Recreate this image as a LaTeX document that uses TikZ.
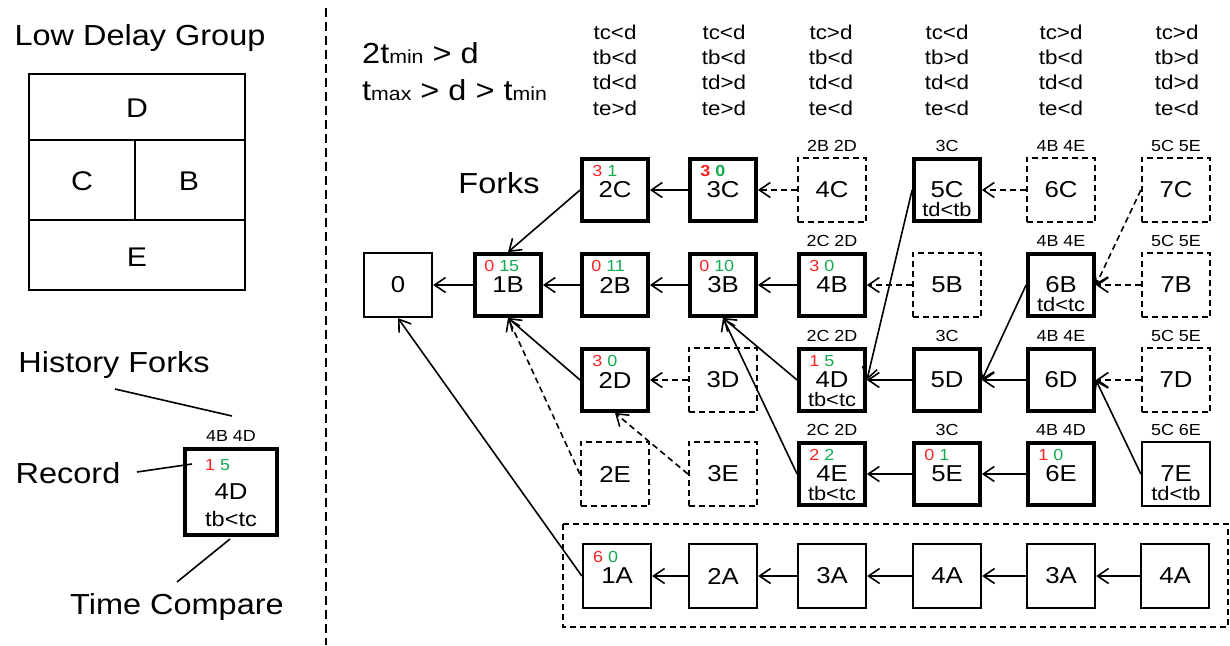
\documentclass[tikz,border=0pt]{standalone}
\usepackage{fontspec}
\setmainfont{Liberation Sans}[FakeStretch=1.12]
\usetikzlibrary{arrows.meta,calc}
\definecolor{recred}{RGB}{250,35,35}
\definecolor{recgreen}{RGB}{20,170,80}
\newcommand{\setfs}[1]{\fontsize{#1}{#1}\selectfont}
\newcommand{\recpair}[2]{{\color{recred}#1} {\color{recgreen}#2}}
\begin{document}
\begin{tikzpicture}[x=1pt,y=-1pt,
  big/.style={inner sep=0pt,font=\setfs{29}},
  cell/.style={inner sep=0pt,font=\setfs{27}},
  thickbox/.style={draw,line width=3.8pt,minimum width=66pt,minimum height=62pt,inner sep=0pt,font=\setfs{23}},
  thinbox/.style={draw,line width=1.8pt,minimum width=68.5pt,minimum height=64.5pt,inner sep=0pt,font=\setfs{23}},
  dashbox/.style={thinbox,dash pattern=on 6pt off 4pt},
  rec/.style={anchor=west,inner sep=0pt,font=\setfs{16}},
  cmp/.style={inner sep=0pt,font=\setfs{19.5}},
  hist/.style={inner sep=0pt,font=\setfs{16}},
  hdr/.style={inner sep=0pt,align=center,font=\fontsize{20}{25.3}\selectfont},
  arr/.style={line width=1.6pt,-{Straight Barb[length=11pt,width=15pt,line width=1.6pt]}},
  darr/.style={arr,dash pattern=on 6pt off 4pt},
  plain/.style={line width=1.6pt}]
\useasboundingbox (0,0) rectangle (1230,645);

% ---------- left panel: low delay group ----------
\node[big] (ldg) at (140,38) {Low Delay Group};
\draw[line width=1.9pt] (29,74) rectangle (245,290);
\draw[line width=1.9pt] (29,140) -- (245,140);
\draw[line width=1.9pt] (29,220) -- (245,220);
\draw[line width=1.9pt] (135,140) -- (135,220);
\node[cell] (gD) at (137,108) {D};
\node[cell] (gC) at (82,181) {C};
\node[cell] (gB) at (189,181) {B};
\node[cell] (gE) at (137,257) {E};

% ---------- left panel: legend ----------
\node[big] (lhist) at (114,365) {History Forks};
\node[big] (lrec) at (68,473) {Record};
\node[big] (ltime) at (177,607) {Time Compare};
\node[draw,line width=3.8pt,minimum width=92pt,minimum height=86pt,inner sep=0pt,font=\setfs{23}] (ex) at (231,492) {4D};
\node[hist] (exh) at (231,436) {4B 4D};
\node[rec] (exr) at (205,465) {\recpair{1}{5}};
\node[cmp,font=\setfs{21}] (exc) at (231,519) {tb<tc};
\coordinate (lh1) at (115,389);
\coordinate (lh2) at (232,416);
\coordinate (lr1) at (137,472);
\coordinate (lr2) at (192,464);
\coordinate (lt1) at (177,582);
\coordinate (lt2) at (230,539);
\draw[plain] (lh1) -- (lh2);
\draw[plain] (lr1) -- (lr2);
\draw[plain] (lt1) -- (lt2);

% separator
\coordinate (s1) at (326,8);
\coordinate (s2) at (326,645);
\draw[line width=1.4pt,dash pattern=on 9pt off 5pt] (s1) -- (s2);

% ---------- conditions ----------
\node[big,anchor=base west] (f1) at (362,63) {2t{\setfs{19}min} > d};
\node[big,anchor=base west] (f2) at (362,100) {t{\setfs{19}max} > d > t{\setfs{19}min}};
\node[hdr] (h1) at (615,70) {tc<d\\tb<d\\td<d\\te>d};
\node[hdr] (h2) at (724,70) {tc<d\\tb<d\\td>d\\te>d};
\node[hdr] (h3) at (831,70) {tc>d\\tb<d\\td<d\\te<d};
\node[hdr] (h4) at (947,70) {tc<d\\tb>d\\td<d\\te<d};
\node[hdr] (h5) at (1061,70) {tc>d\\tb<d\\td<d\\te<d};
\node[hdr] (h6) at (1177,70) {tc>d\\tb>d\\td>d\\te<d};
\node[big] (forks) at (499,183) {Forks};

% ---------- boxes ----------
\node[thinbox] (n0) at (398,285) {0};
\node[thickbox] (n1B) at (508,285) {1B};
% row C
\node[thickbox] (n2C) at (615,190) {2C};
\node[thickbox] (n3C) at (723,190) {3C};
\node[dashbox] (n4C) at (832,190) {4C};
\node[thickbox] (n5C) at (947,190) {5C};
\node[dashbox] (n6C) at (1061,190) {6C};
\node[dashbox] (n7C) at (1176,190) {7C};
% row B
\node[thickbox] (n2B) at (615,285) {2B};
\node[thickbox] (n3B) at (723,285) {3B};
\node[thickbox] (n4B) at (832,285) {4B};
\node[dashbox] (n5B) at (947,285) {5B};
\node[thickbox] (n6B) at (1061,285) {6B};
\node[dashbox] (n7B) at (1176,285) {7B};
% row D
\node[thickbox] (n2D) at (615,380) {2D};
\node[dashbox] (n3D) at (723,380) {3D};
\node[thickbox] (n4D) at (832,380) {4D};
\node[thickbox] (n5D) at (947,380) {5D};
\node[thickbox] (n6D) at (1061,380) {6D};
\node[dashbox] (n7D) at (1176,380) {7D};
% row E
\node[dashbox] (n2E) at (615,474) {2E};
\node[dashbox] (n3E) at (723,474) {3E};
\node[thickbox] (n4E) at (832,474) {4E};
\node[thickbox] (n5E) at (947,474) {5E};
\node[thickbox] (n6E) at (1061,474) {6E};
\node[thinbox] (n7E) at (1176,474) {7E};
% row A
\node[thinbox] (a1) at (617,576) {1A};
\node[thinbox] (a2) at (723,576) {2A};
\node[thinbox] (a3) at (832,576) {3A};
\node[thinbox] (a4) at (947,576) {4A};
\node[thinbox] (a5) at (1061,576) {3A};
\node[thinbox] (a6) at (1175,576) {4A};
\coordinate (dbA1) at (563,524);
\coordinate (dbA2) at (1228,627);
\draw[line width=1.6pt,dash pattern=on 6pt off 4pt] (dbA1) rectangle (dbA2);

% ---------- records ----------
\node[rec] (r1B) at ($(n1B.north west)+(11,14)$) {\recpair{0}{15}};
\node[rec] (r2C) at ($(n2C.north west)+(12,14)$) {\recpair{3}{1}};
\node[rec] (r3C) at ($(n3C.north west)+(12,14)$) {\bfseries\recpair{3}{0}};
\node[rec] (r2B) at ($(n2B.north west)+(11,14)$) {\recpair{0}{11}};
\node[rec] (r3B) at ($(n3B.north west)+(11,14)$) {\recpair{0}{10}};
\node[rec] (r4B) at ($(n4B.north west)+(12,14)$) {\recpair{3}{0}};
\node[rec] (r2D) at ($(n2D.north west)+(12,14)$) {\recpair{3}{0}};
\node[rec] (r4D) at ($(n4D.north west)+(12,14)$) {\recpair{1}{5}};
\node[rec] (r4E) at ($(n4E.north west)+(12,14)$) {\recpair{2}{2}};
\node[rec] (r5E) at ($(n5E.north west)+(12,14)$) {\recpair{0}{1}};
\node[rec] (r6E) at ($(n6E.north west)+(12,14)$) {\recpair{1}{0}};
\node[rec] (r1A) at ($(a1.north west)+(11,14)$) {\recpair{6}{0}};

% ---------- comparisons ----------
\node[cmp] (c5C) at ($(n5C.center)+(0,20)$) {td<tb};
\node[cmp] (c6B) at ($(n6B.center)+(0,20)$) {td<tc};
\node[cmp] (c4D) at ($(n4D.center)+(0,20)$) {tb<tc};
\node[cmp] (c4E) at ($(n4E.center)+(0,20)$) {tb<tc};
\node[cmp] (c7E) at ($(n7E.center)+(0,20)$) {td<tb};

% ---------- history forks ----------
\node[hist] (k4C) at ($(n4C.north)+(0,-11)$) {2B 2D};
\node[hist] (k5C) at ($(n5C.north)+(0,-11)$) {3C};
\node[hist] (k6C) at ($(n6C.north)+(0,-11)$) {4B 4E};
\node[hist] (k7C) at ($(n7C.north)+(0,-11)$) {5C 5E};
\node[hist] (k4B) at ($(n4B.north)+(0,-11)$) {2C 2D};
\node[hist] (k6B) at ($(n6B.north)+(0,-11)$) {4B 4E};
\node[hist] (k7B) at ($(n7B.north)+(0,-11)$) {5C 5E};
\node[hist] (k4D) at ($(n4D.north)+(0,-11)$) {2C 2D};
\node[hist] (k5D) at ($(n5D.north)+(0,-11)$) {3C};
\node[hist] (k6D) at ($(n6D.north)+(0,-11)$) {4B 4E};
\node[hist] (k7D) at ($(n7D.north)+(0,-11)$) {5C 5E};
\node[hist] (k4E) at ($(n4E.north)+(0,-11)$) {2C 2D};
\node[hist] (k5E) at ($(n5E.north)+(0,-11)$) {3C};
\node[hist] (k6E) at ($(n6E.north)+(0,-11)$) {4B 4D};
\node[hist] (k7E) at ($(n7E.north)+(0,-11)$) {5C 6E};

% ---------- connectors ----------
\draw[arr] (n1B) -- (n0);
\draw[arr] (n2B) -- (n1B);
\draw[arr] (n3B) -- (n2B);
\draw[arr] (n4B) -- (n3B);
\draw[darr] (n5B) -- (n4B);
\draw[darr] (n7B) -- (n6B);
\draw[arr] (n3C) -- (n2C);
\draw[darr] (n4C) -- (n3C);
\draw[darr] (n6C) -- (n5C);
\draw[darr] (n3D) -- (n2D);
\draw[arr] (n5D) -- (n4D);
\draw[arr] (n6D) -- (n5D);
\draw[darr] (n7D) -- (n6D);
\draw[arr] (n5E) -- (n4E);
\draw[arr] (n6E) -- (n5E);
\draw[arr] (n2C.west) -- (n1B.north);
\draw[arr] (n2D.west) -- (n1B.south);
\draw[darr] (n2E.west) -- (n1B.south);
\draw[darr] (n3E.west) -- (n2D.south);
\draw[arr] (n4D.west) -- (n3B.south);
\draw[arr] (n4E.west) -- (n3B.south);
\draw[arr] (n5C.west) -- (n4D.east);
\draw[arr] (n6B.west) -- (n5D.east);
\draw[darr] (n7C.west) -- (n6B.east);
\draw[arr] (n7E.west) -- (n6D.east);
\draw[arr] (a1.west) -- (n0.south);
\draw[arr] (a2) -- (a1);
\draw[arr] (a3) -- (a2);
\draw[arr] (a4) -- (a3);
\draw[arr] (a5) -- (a4);
\draw[arr] (a6) -- (a5);
\end{tikzpicture}
\end{document}
